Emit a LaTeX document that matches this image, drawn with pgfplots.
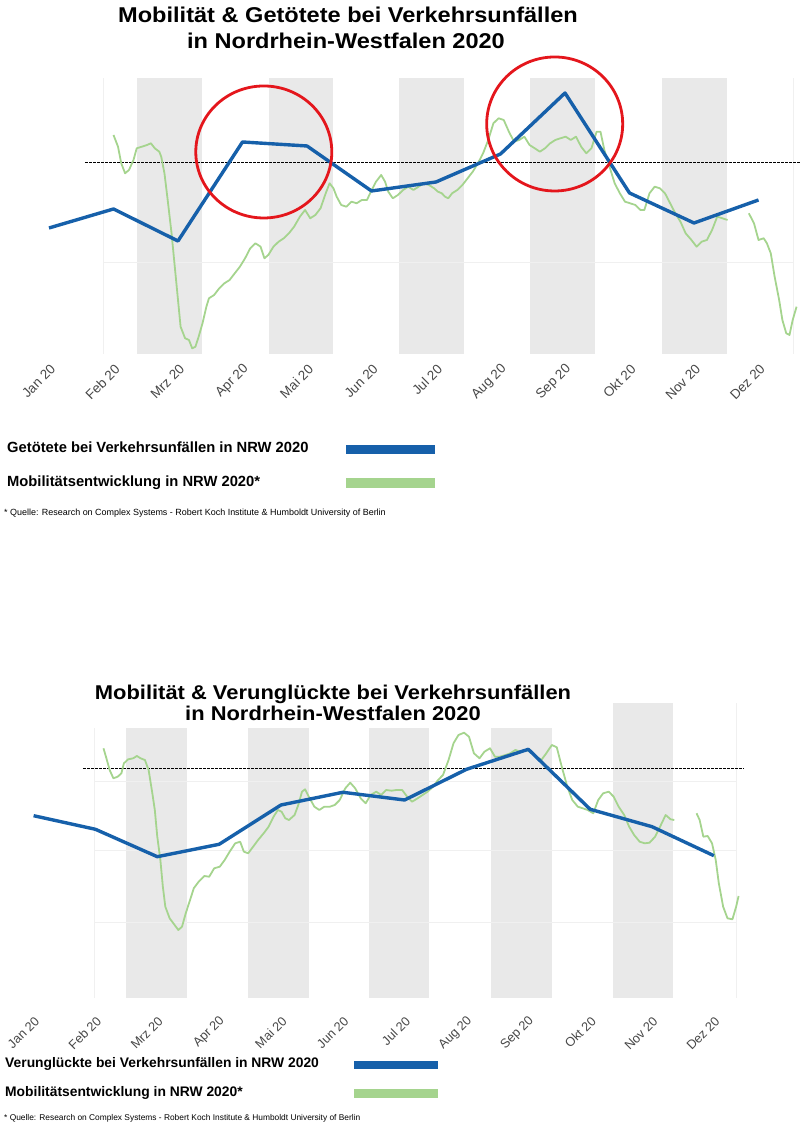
\documentclass[border=0pt]{standalone}
\usepackage{pgfplots}
\pgfplotsset{compat=1.18}
\usepackage{fontspec}
\setmainfont{Liberation Sans}
\newfontfamily\titlefont[FakeStretch=1.1]{Liberation Sans}
\definecolor{nrwblue}{RGB}{22,96,170}
\definecolor{mobgreen}{RGB}{165,212,142}
\definecolor{band}{RGB}{233,233,233}
\definecolor{circ}{RGB}{228,22,28}
\definecolor{faint}{RGB}{240,240,240}

\pgfplotsset{
  nrw/.style={
    scale only axis, clip=false,
    axis line style={draw=none},
    tick style={draw=none},
    ytick=\empty,
    xtick={0,...,11},
    xticklabels={Jan 20,Feb 20,Mrz 20,Apr 20,Mai 20,Jun 20,Jul 20,Aug 20,Sep 20,Okt 20,Nov 20,Dez 20},
  },
  blueline/.style={nrwblue, line width=3.4bp, line join=round},
  greenline/.style={mobgreen, line width=1.8bp, line join=round},
}

\begin{document}
\begin{tikzpicture}[x=1bp,y=1bp]
\useasboundingbox (0,0) rectangle (810,1147);

% ---------- chart 1 ----------
\node[anchor=base, font=\titlefont\bfseries\fontsize{21.5}{22}\selectfont] at (348,1124) {Mobilität \& Getötete bei Verkehrsunfällen};
\node[anchor=base, font=\titlefont\bfseries\fontsize{21.5}{22}\selectfont] at (346,1098) {in Nordrhein-Westfalen 2020};

\begin{axis}[nrw, at={(49bp,793bp)}, anchor=south west,
    width=748.2bp, height=276bp,
    xmin=0, xmax=11.6, ymin=-192, ymax=84,
    xticklabel style={font=\fontsize{13.5}{13.5}\selectfont, text=black!72,
      xshift=4bp, yshift=-13bp, rotate=45, anchor=east, inner sep=0pt}]
  \fill[band] (axis cs:1.36,-192) rectangle (axis cs:2.37,84);
  \fill[band] (axis cs:3.41,-192) rectangle (axis cs:4.40,84);
  \fill[band] (axis cs:5.43,-192) rectangle (axis cs:6.43,84);
  \fill[band] (axis cs:7.46,-192) rectangle (axis cs:8.46,84);
  \fill[band] (axis cs:9.50,-192) rectangle (axis cs:10.51,84);
  \draw[faint] (axis cs:0.84,-100) -- (axis cs:11.53,-100);
  \draw[faint] (axis cs:0.84,-192) -- (axis cs:0.84,84);
  \draw[faint] (axis cs:11.53,-192) -- (axis cs:11.53,84);
  \draw[black, line width=0.9bp, dash pattern=on 2.5bp off 1.5bp] (axis cs:0.56,0) -- (axis cs:11.64,0);

  \addplot[greenline] coordinates {
    (1.00,27.0)(1.07,15.3)(1.12,-1.3)(1.18,-11.3)(1.24,-8.0)(1.31,2.0)(1.36,13.7)(1.44,15.3)
    (1.52,17.0)(1.58,18.7)(1.64,13.7)(1.71,10.3)(1.74,5.3)(1.79,-11.3)(1.84,-38.0)(1.90,-71.3)
    (1.95,-104.7)(2.00,-138.0)(2.04,-164.7)(2.11,-176.3)(2.17,-178.0)(2.22,-186.3)(2.27,-184.7)
    (2.32,-174.7)(2.38,-161.3)(2.44,-144.7)(2.48,-136.3)(2.56,-133.0)(2.64,-126.3)(2.72,-121.3)
    (2.80,-118.0)(2.88,-111.3)(2.96,-104.7)(3.04,-96.3)(3.12,-86.3)(3.20,-81.3)(3.28,-84.7)
    (3.34,-96.3)(3.40,-93.0)(3.48,-84.7)(3.56,-79.7)(3.64,-76.3)(3.72,-71.3)(3.80,-64.7)
    (3.89,-54.7)(3.97,-48.0)(4.05,-56.3)(4.13,-53.0)(4.21,-46.3)(4.29,-31.3)(4.35,-21.3)
    (4.41,-26.3)(4.46,-34.7)(4.53,-43.0)(4.61,-44.7)(4.69,-39.7)(4.77,-41.3)(4.85,-38.0)
    (4.93,-38.0)(4.99,-29.7)(5.07,-19.7)(5.15,-13.0)(5.21,-19.7)(5.26,-29.7)(5.33,-36.3)
    (5.41,-33.0)(5.49,-28.0)(5.57,-24.7)(5.65,-28.0)(5.73,-24.7)(5.81,-21.3)(5.89,-23.0)
    (5.97,-26.3)(6.03,-29.7)(6.09,-31.3)(6.14,-34.7)(6.19,-36.3)(6.25,-31.3)(6.33,-28.0)
    (6.41,-23.0)(6.49,-16.3)(6.57,-9.7)(6.65,-1.3)(6.73,8.7)(6.81,22.0)(6.89,38.7)(6.97,43.7)
    (7.05,42.0)(7.13,30.3)(7.21,20.3)(7.29,22.0)(7.37,25.3)(7.45,17.0)(7.53,13.7)(7.61,10.3)
    (7.69,13.7)(7.77,18.7)(7.85,22.0)(7.93,23.7)(8.01,25.3)(8.09,22.0)(8.17,25.3)(8.25,15.3)
    (8.33,8.7)(8.41,13.7)(8.49,30.3)(8.55,30.3)(8.61,12.0)(8.69,-4.7)(8.77,-21.3)(8.85,-31.3)
    (8.93,-39.7)(9.01,-41.3)(9.09,-43.0)(9.17,-48.0)(9.23,-48.0)(9.31,-31.3)(9.39,-24.7)
    (9.47,-26.3)(9.55,-31.3)(9.63,-41.3)(9.71,-51.3)(9.79,-59.7)(9.87,-71.3)(9.96,-78.0)
    (10.04,-84.7)(10.12,-79.7)(10.20,-78.0)(10.28,-68.0)(10.36,-54.7)(10.44,-56.3)(10.52,-58.0)
  };
  \addplot[greenline] coordinates {
    (10.85,-51.3)(10.93,-61.3)(11.00,-78.0)(11.08,-76.3)(11.13,-81.3)(11.19,-91.3)(11.25,-114.7)
    (11.32,-138.0)(11.37,-158.0)(11.43,-171.3)(11.48,-173.0)(11.53,-158.0)(11.59,-144.7)
  };
  \addplot[blueline] coordinates {
    (0,-66)(1,-47)(2,-79)(3,20)(4,16)(5,-29)(6,-20)(7,8)(8,69)(9,-31)(10,-61)(11,-38)
  };
  \draw[circ, line width=2.8bp] (axis cs:3.33,10) ellipse [x radius=68bp, y radius=66bp];
  \draw[circ, line width=2.8bp] (axis cs:7.84,38) ellipse [x radius=68bp, y radius=67bp];
\end{axis}

\node[anchor=base west, inner sep=0pt, font=\bfseries\fontsize{14.8}{15}\selectfont] at (7,694) {Getötete bei Verkehrsunfällen in NRW 2020};
\fill[nrwblue] (346,693) rectangle (435,702);
\node[anchor=base west, inner sep=0pt, font=\bfseries\fontsize{14.8}{15}\selectfont] at (7,660) {Mobilitätsentwicklung in NRW 2020*};
\fill[mobgreen] (346,659) rectangle (435,669);
\node[anchor=base west, inner sep=0pt, font=\fontsize{9}{9}\selectfont] at (4,631) {* Quelle: Research on Complex Systems - Robert Koch Institute \& Humboldt University of Berlin};

% ---------- chart 2 ----------
\node[anchor=base, font=\titlefont\bfseries\fontsize{20}{21}\selectfont] at (333,447.7) {Mobilität \& Verunglückte bei Verkehrsunfällen};
\node[anchor=base, font=\titlefont\bfseries\fontsize{20}{21}\selectfont] at (333,426.3) {in Nordrhein-Westfalen 2020};

\begin{axis}[nrw, at={(33.6bp,149bp)}, anchor=south west,
    width=705bp, height=270bp,
    xmin=0, xmax=11.4, ymin=-229.7, ymax=40.3,
    xticklabel style={font=\fontsize{12.8}{12.8}\selectfont, text=black!72,
      xshift=3.5bp, yshift=-21bp, rotate=45, anchor=east, inner sep=0pt}]
  \fill[band] (axis cs:1.50,-229.7) rectangle (axis cs:2.48,40.3);
  \fill[band] (axis cs:3.47,-229.7) rectangle (axis cs:4.45,40.3);
  \fill[band] (axis cs:5.42,-229.7) rectangle (axis cs:6.39,40.3);
  \fill[band] (axis cs:7.40,-229.7) rectangle (axis cs:8.38,40.3);
  \fill[band] (axis cs:9.37,-229.7) rectangle (axis cs:10.34,65.3);
  \draw[faint] (axis cs:0.985,-13.4) -- (axis cs:11.36,-13.4);
  \draw[faint] (axis cs:0.985,-81.7) -- (axis cs:11.36,-81.7);
  \draw[faint] (axis cs:0.985,-154) -- (axis cs:11.36,-154);
  \draw[faint] (axis cs:0.985,-229.7) -- (axis cs:0.985,40.3);
  \draw[faint] (axis cs:11.36,-229.7) -- (axis cs:11.36,65.3);
  \draw[black, line width=0.9bp, dash pattern=on 2.5bp off 1.5bp] (axis cs:0.80,0) -- (axis cs:11.49,0);

  \addplot[greenline] coordinates {
    (1.13,20.0)(1.17,11.6)(1.23,-1.7)(1.29,-10.0)(1.36,-8.4)(1.42,-5.0)(1.46,5.0)(1.53,9.0)
    (1.61,10.0)(1.67,12.3)(1.73,10.0)(1.80,8.3)(1.86,-1.7)(1.92,-25.0)(1.96,-41.7)(2.00,-68.4)
    (2.05,-91.7)(2.09,-118.4)(2.13,-138.4)(2.20,-150.0)(2.26,-155.0)(2.34,-161.7)(2.40,-158.4)
    (2.46,-145.0)(2.53,-131.7)(2.59,-120.0)(2.67,-113.4)(2.76,-107.7)(2.84,-108.4)(2.92,-100.0)
    (3.01,-98.4)(3.09,-91.7)(3.17,-83.4)(3.26,-75.0)(3.34,-73.4)(3.40,-83.4)(3.47,-85.0)
    (3.55,-78.4)(3.63,-71.7)(3.72,-65.0)(3.80,-58.4)(3.88,-48.4)(3.95,-41.7)(4.01,-43.4)
    (4.07,-50.0)(4.13,-51.7)(4.22,-46.7)(4.28,-36.7)(4.34,-23.4)(4.39,-21.0)(4.45,-28.4)
    (4.54,-38.4)(4.62,-41.7)(4.70,-38.4)(4.79,-38.4)(4.87,-36.7)(4.95,-31.7)(5.04,-20.0)
    (5.12,-14.4)(5.20,-20.0)(5.29,-30.0)(5.37,-35.0)(5.45,-26.7)(5.54,-23.4)(5.62,-26.7)
    (5.70,-21.7)(5.79,-22.4)(5.87,-21.7)(5.96,-21.7)(6.04,-28.4)(6.12,-33.4)(6.21,-30.0)
    (6.29,-26.7)(6.37,-23.4)(6.46,-18.4)(6.54,-11.7)(6.62,-6.7)(6.71,8.3)(6.79,25.0)(6.87,33.3)
    (6.96,35.6)(7.04,31.6)(7.12,15.0)(7.21,10.0)(7.29,16.6)(7.38,20.0)(7.46,11.6)(7.54,11.6)
    (7.63,13.3)(7.71,15.0)(7.79,18.3)(7.88,16.6)(7.96,18.3)(8.04,16.6)(8.13,11.6)(8.21,8.3)
    (8.29,15.0)(8.38,23.3)(8.46,21.0)(8.54,1.6)(8.63,-18.4)(8.71,-31.7)(8.80,-38.4)(8.88,-40.0)
    (8.96,-41.7)(9.05,-45.0)(9.13,-31.7)(9.21,-25.0)(9.30,-23.4)(9.38,-28.4)(9.46,-38.4)
    (9.55,-46.7)(9.63,-58.4)(9.71,-66.7)(9.80,-73.4)(9.88,-75.0)(9.96,-74.4)(10.05,-68.4)
    (10.13,-58.4)(10.22,-46.7)(10.30,-51.0)(10.36,-51.7)
  };
  \addplot[greenline] coordinates {
    (10.72,-45.0)(10.77,-51.7)(10.83,-68.4)(10.90,-67.7)(10.97,-75.0)(11.03,-91.7)(11.08,-115.0)
    (11.15,-138.4)(11.22,-150.0)(11.30,-151.0)(11.36,-138.4)(11.40,-127.7)
  };
  \addplot[blueline] coordinates {
    (0,-47.4)(1,-61.0)(2,-88.4)(3,-76.0)(4,-36.7)(5,-24.0)(6,-31.7)(7,-1.0)(8,19.0)(9,-41.0)(10,-58.4)(11,-87.4)
  };
\end{axis}

\node[anchor=base west, inner sep=0pt, font=\bfseries\fontsize{13.9}{14}\selectfont] at (5,79) {Verunglückte bei Verkehrsunfällen in NRW 2020};
\fill[nrwblue] (354,78) rectangle (438,86);
\node[anchor=base west, inner sep=0pt, font=\bfseries\fontsize{13.9}{14}\selectfont] at (5,50) {Mobilitätsentwicklung in NRW 2020*};
\fill[mobgreen] (354,49) rectangle (438,58);
\node[anchor=base west, inner sep=0pt, font=\fontsize{8.4}{9}\selectfont] at (4,26) {* Quelle: Research on Complex Systems - Robert Koch Institute \& Humboldt University of Berlin};
\end{tikzpicture}
\end{document}
